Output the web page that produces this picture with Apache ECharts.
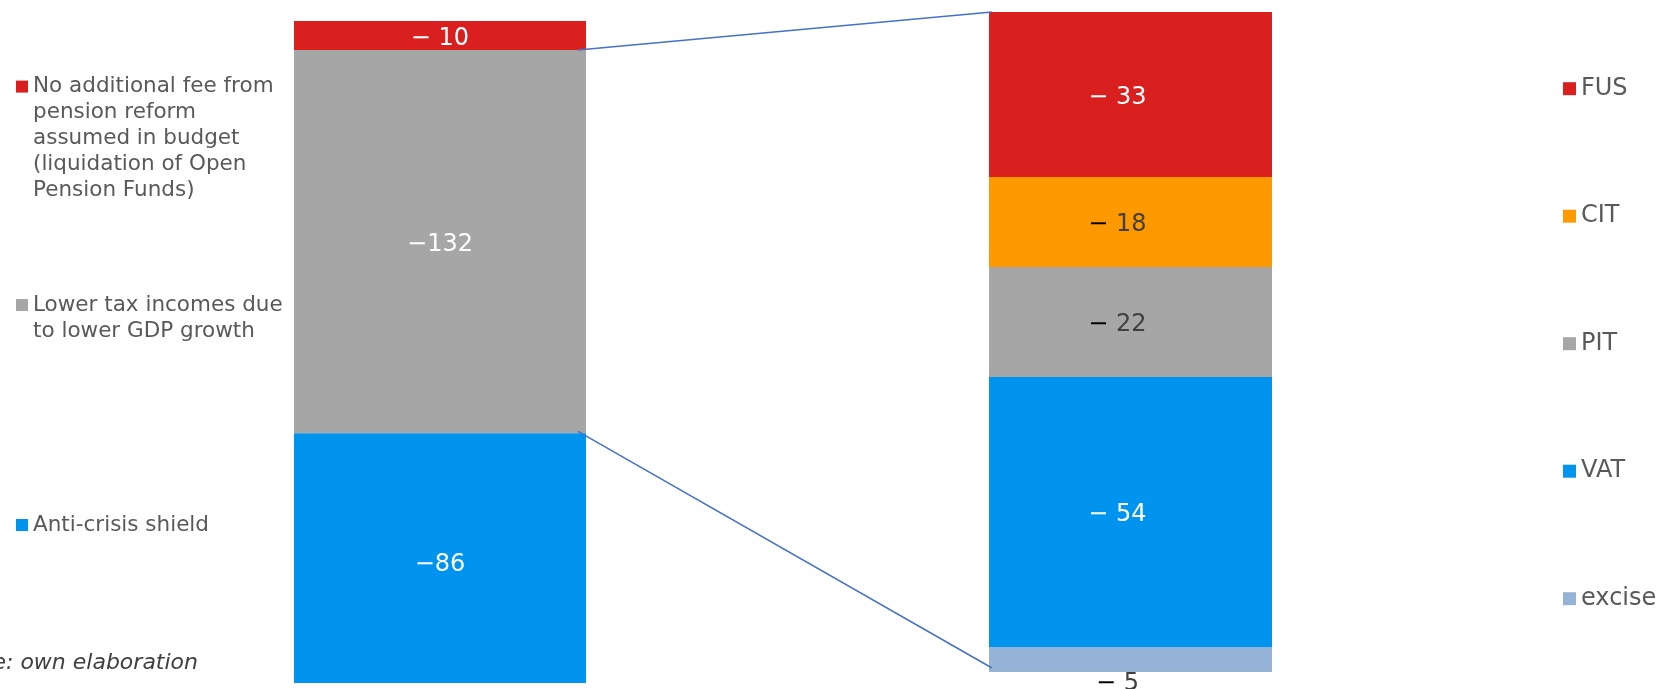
<!DOCTYPE html>
<html><head><meta charset="utf-8">
<script src="https://cdn.jsdelivr.net/npm/echarts@6/dist/echarts.min.js"></script>
<style>html,body{margin:0;padding:0;background:#fff}#c{width:1656px;height:689px}</style>
</head><body><div id="c"></div>
<script>
// ---- data ----
const leftCategory = ['Budget gap'];
const leftNames = [
  'No additional fee from pension reform assumed in budget (liquidation of Open Pension Funds)',
  'Lower tax incomes due to lower GDP growth',
  'Anti-crisis shield'
];
const leftLegendLines = [
  ['No additional fee from', 'pension reform', 'assumed in budget', '(liquidation of Open', 'Pension Funds)'],
  ['Lower tax incomes due', 'to lower GDP growth'],
  ['Anti-crisis shield']
];
const leftValues = [-10, -132, -86];
const leftLabels = ['\u2212 10', '\u2212132', '\u221286'];

const rightCategory = ['Lower tax incomes'];
const rightNames = ['FUS', 'CIT', 'PIT', 'VAT', 'excise'];
const rightValues = [-33, -18, -22, -54, -5];
const rightLabels = ['\u2212 33', '\u2212 18', '\u2212 22', '\u2212 54', '\u2212 5'];

const sourceText = 'Source: own elaboration';

// ---- styles ----
const FONT = '"DejaVu Sans", Verdana, sans-serif';
const leftColors = ['#DA1F1F', '#A6A6A6', '#0094EE'];
const leftLabelDy = [3, 3, 7];
const rightColors = ['#DA1F1F', '#FF9900', '#A6A6A6', '#0094EE', '#95B3D7'];
const rightLabelDark = [false, true, true, false, true];

const chart = echarts.init(document.getElementById('c'), null, {renderer: 'canvas'});

const series = [];
leftNames.forEach((n, i) => {
  series.push({
    type: 'bar', name: n, xAxisIndex: 0, yAxisIndex: 0, stack: 'L',
    barWidth: '100%', data: [leftValues[i]],
    itemStyle: {color: leftColors[i]},
    emphasis: {disabled: true},
    label: {show: true, position: 'inside', offset: [0, leftLabelDy[i]],
      formatter: leftLabels[i], color: '#fff', fontSize: 24, fontFamily: FONT}
  });
});
rightNames.forEach((n, i) => {
  const p = rightLabels[i].split(' ');
  const dark = rightLabelDark[i];
  const last = i === rightNames.length - 1;
  series.push({
    type: 'bar', name: n, xAxisIndex: 1, yAxisIndex: 1, stack: 'R',
    barWidth: '100%', data: [rightValues[i]],
    itemStyle: {color: rightColors[i]},
    emphasis: {disabled: true},
    label: {show: true, position: last ? 'bottom' : 'inside',
      distance: 0, offset: [-13, last ? 0 : 3],
      formatter: '{m|' + p[0] + '} {d|' + p[1] + '}',
      color: dark ? '#404040' : '#fff', fontSize: 24, fontFamily: FONT,
      rich: {
        m: {color: dark ? '#000' : '#fff', fontSize: 24, fontFamily: FONT},
        d: {color: dark ? '#404040' : '#fff', fontSize: 24, fontFamily: FONT}
      }}
  });
});

const LH = 26;
const leftLegendTops = [86.6, 305, 525];
const legends = leftNames.map((n, i) => {
  const nl = leftLegendLines[i].length;
  const blanks = [];
  for (let k = 0; k < nl - 1; k++) blanks.push(' ');
  const text = blanks.concat(leftLegendLines[i]).join('\n');
  return {
    orient: 'vertical', left: 16, top: leftLegendTops[i] - (2 * nl - 1) * LH / 2,
    padding: 0, itemWidth: 12, itemHeight: 12, icon: 'rect', selectedMode: false,
    data: [n],
    formatter: () => text,
    textStyle: {fontSize: 21.5, lineHeight: LH, color: '#595959', fontFamily: FONT}
  };
});
legends.push({
  orient: 'vertical', left: 1563, top: 88.7 - 13, padding: 0, itemGap: 101.5,
  itemWidth: 13, itemHeight: 13, icon: 'rect', selectedMode: false,
  data: rightNames,
  textStyle: {fontSize: 24, lineHeight: LH, color: '#595959', fontFamily: FONT}
});

chart.setOption({
  animation: false,
  backgroundColor: '#fff',
  grid: [
    {left: 294, right: 1070, top: 21, height: 662},
    {left: 989, right: 384, top: 12, height: 660}
  ],
  xAxis: [
    {type: 'category', gridIndex: 0, data: leftCategory, show: false},
    {type: 'category', gridIndex: 1, data: rightCategory, show: false}
  ],
  yAxis: [
    {type: 'value', gridIndex: 0, min: -228, max: 0, show: false, splitLine: {show: false}},
    {type: 'value', gridIndex: 1, min: -132, max: 0, show: false, splitLine: {show: false}}
  ],
  legend: legends,
  series: series
});

// connector lines derived from the library's scales
const r0 = chart.getModel().getComponent('grid', 0).coordinateSystem.getRect();
const r1 = chart.getModel().getComponent('grid', 1).coordinateSystem.getRect();
const yTop0 = chart.convertToPixel({yAxisIndex: 0}, leftValues[0]);
const yBot0 = chart.convertToPixel({yAxisIndex: 0}, leftValues[0] + leftValues[1]);
const yTop1 = chart.convertToPixel({yAxisIndex: 1}, 0);
const yBot1 = chart.convertToPixel({yAxisIndex: 1}, rightValues.reduce((a, b) => a + b, 0));
const xs = r0.x + r0.width - 8, xe = r1.x + 3;

chart.setOption({
  graphic: [
    {type: 'line', shape: {x1: xs, y1: yTop0, x2: xe, y2: yTop1},
      style: {stroke: '#4472C4', lineWidth: 1.5}, z: 10},
    {type: 'line', shape: {x1: xs, y1: yBot0 - 2, x2: xe, y2: yBot1 - 4},
      style: {stroke: '#4472C4', lineWidth: 1.5}, z: 10},
    {type: 'text', x: 198, y: 663,
      style: {text: sourceText, align: 'right', verticalAlign: 'middle',
        fontSize: 22, fontStyle: 'italic', fontFamily: FONT, fill: '#404040'}}
  ]
});
</script>
</body></html>
